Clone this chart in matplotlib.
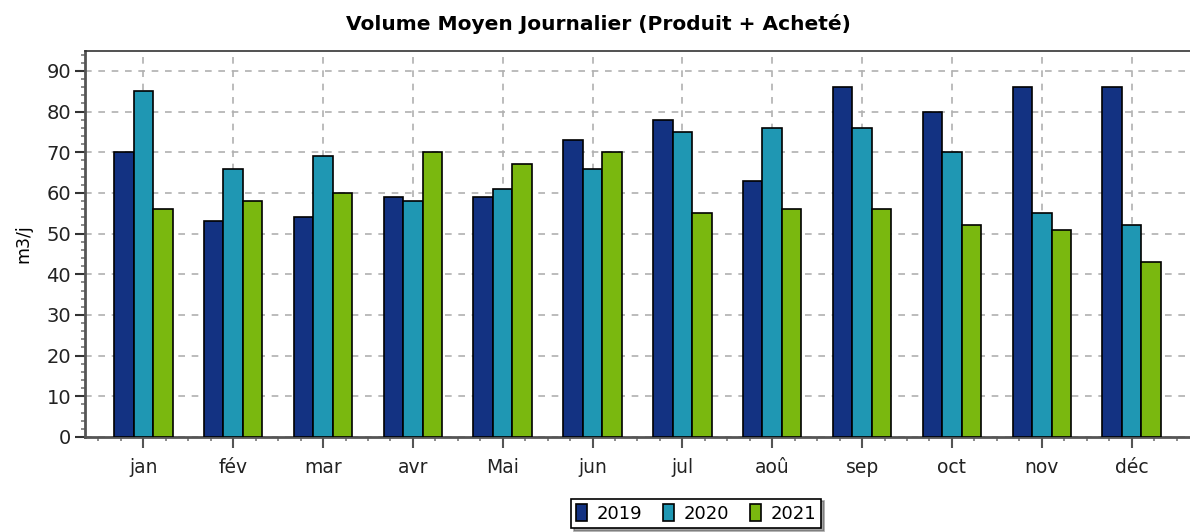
import numpy as np
import matplotlib
matplotlib.use("Agg")
import matplotlib.pyplot as plt
from matplotlib.ticker import MultipleLocator

# monthly average daily volume (m3/j)
months = ["jan", "fév", "mar", "avr", "Mai", "jun", "jul", "aoû", "sep", "oct", "nov", "déc"]
years = ["2019", "2020", "2021"]
vol_2019 = [70, 53, 54, 59, 59, 73, 78, 63, 86, 80, 86, 86]
vol_2020 = [85, 66, 69, 58, 61, 66, 75, 76, 76, 70, 55, 52]
vol_2021 = [56, 58, 60, 70, 67, 70, 55, 56, 56, 52, 51, 43]
colors = ["#133282", "#1f97b3", "#7ab80f"]

fig = plt.figure(figsize=(11.9, 5.32), dpi=100)
ax = fig.add_axes([0.0714, 0.1786, 0.9286, 0.7256])

x = np.arange(len(months))
width = 0.217
for i, (vals, col, lab) in enumerate(zip([vol_2019, vol_2020, vol_2021], colors, years)):
    ax.bar(x + (i - 1) * width, vals, width, color=col, edgecolor="black",
           linewidth=1.2, label=lab, zorder=3)

ax.set_xlim(-0.65, len(months) - 1 + 0.65)
ax.set_ylim(0, 94.9)
ax.set_xticks(x)
ax.set_xticklabels(months, fontsize=13.5, color="#222222")
ax.xaxis.set_minor_locator(MultipleLocator(0.25))
ax.yaxis.set_major_locator(MultipleLocator(10))
ax.yaxis.set_minor_locator(MultipleLocator(2))
ax.tick_params(axis="y", labelsize=14, colors="#333333", labelcolor="#222222",
               length=7, width=1.5, pad=3)
ax.tick_params(axis="x", length=8, width=1.5, pad=7, colors="#555555", labelcolor="#222222")
ax.tick_params(which="minor", length=3, width=1.2, colors="#777777")

ax.grid(True, which="major", linestyle=(0, (4, 4)), color="#b0b0b0", linewidth=1.2, zorder=0)

for side in ["left", "bottom"]:
    ax.spines[side].set_linewidth(2)
    ax.spines[side].set_color("#555555")
ax.spines["top"].set_linewidth(1.2)
ax.spines["top"].set_color("#333333")
ax.spines["right"].set_visible(False)

ax.set_ylabel("m3/j", fontsize=12.5, labelpad=10)
fig.text(0.503, 0.955, "Volume Moyen Journalier (Produit + Acheté)",
         ha="center", va="center", fontsize=14.5, fontweight="bold")

leg = ax.legend(loc="center", ncol=3, fontsize=13, frameon=True,
                fancybox=False, shadow=True, edgecolor="black",
                handlelength=0.6, handleheight=1.1, handletextpad=0.5, columnspacing=1.2,
                borderpad=0.3)
leg.get_frame().set_linewidth(1.2)
leg.set_bbox_to_anchor((0.585, 0.035), transform=fig.transFigure)

plt.savefig("out.png", dpi=100)
